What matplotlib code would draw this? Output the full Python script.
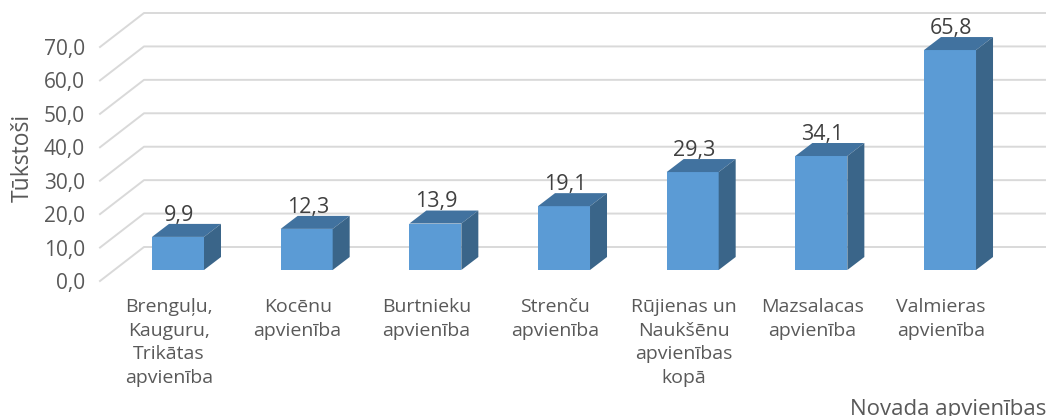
import matplotlib
matplotlib.use('Agg')
import matplotlib.pyplot as plt

categories = ["Brenguļu,\nKauguru,\nTrikātas\napvienība", "Kocēnu\napvienība", "Burtnieku\napvienība",
              "Strenču\napvienība", "Rūjienas un\nNaukšēnu\napvienības\nkopā", "Mazsalacas\napvienība", "Valmieras\napvienība"]
values = [9.9, 12.3, 13.9, 19.1, 29.3, 34.1, 65.8]
y_ticks = [0, 10, 20, 30, 40, 50, 60, 70]

W, H = 1046, 416
plt.rcParams['font.family'] = ['Open Sans', 'DejaVu Sans']
fig = plt.figure(figsize=(W/100, H/100), dpi=100)
L, R, B, T = 100, 1045, 281, 47
ax = fig.add_axes([L/W, 1-B/H, (R-L)/W, (B-T)/H])
step = 128.67
x0 = 178
ax.set_xlim((L-x0)/step, (R-x0)/step)
ax.set_ylim(0, 70)
ppu = (B-T)/70
for s in ax.spines.values():
    s.set_visible(False)

floor_dx, floor_dy = 44/step, 34/ppu
for v in y_ticks:
    ax.plot([(L-x0)/step, (L-x0)/step+floor_dx, (R-x0)/step], [v, v+floor_dy, v+floor_dy],
            color='#D9D9D9', lw=1.4, clip_on=False, zorder=1, solid_joinstyle='round')

bw = 52/step
lift = 11/ppu
dx, dy = 17/step, 13/ppu
xs = list(range(len(values)))
ax.bar(xs, values, width=bw, bottom=lift, color='#5B9BD5', zorder=3, clip_on=False)
for x, v in zip(xs, values):
    l, r, top = x-bw/2, x+bw/2, v+lift
    ax.fill([l, r, r+dx, l+dx], [top, top, top+dy, top+dy], color='#41729F', lw=0, zorder=3, clip_on=False)
    ax.fill([r, r+dx, r+dx, r], [lift, lift+dy, top+dy, top], color='#3A6589', lw=0, zorder=3, clip_on=False)
    ax.text(x+0.01, top+dy-0.5, f"{v:.1f}".replace('.', ','), ha='center', va='bottom',
            fontsize=15.5, color='#404040', zorder=4, clip_on=False)

ax.set_yticks(y_ticks)
ax.set_yticklabels([f"{v:.1f}".replace('.', ',') for v in y_ticks], fontsize=15, color='#595959')
ax.set_xticks([x-0.07 for x in xs])
ax.set_xticklabels(categories, fontsize=14, color='#595959', linespacing=1.39)
ax.tick_params(axis='both', length=0)
ax.tick_params(axis='y', pad=11)
ax.tick_params(axis='x', pad=12.5)

fig.text(23/W, 1-158/H, "Tūkstoši", rotation=90, ha='center', va='center', fontsize=16.5, color='#595959')
fig.text(1046/W, 1-415/H, "Novada apvienības", ha='right', va='baseline', fontsize=16, color='#595959')
fig.savefig('out.png', dpi=100, facecolor='white')
